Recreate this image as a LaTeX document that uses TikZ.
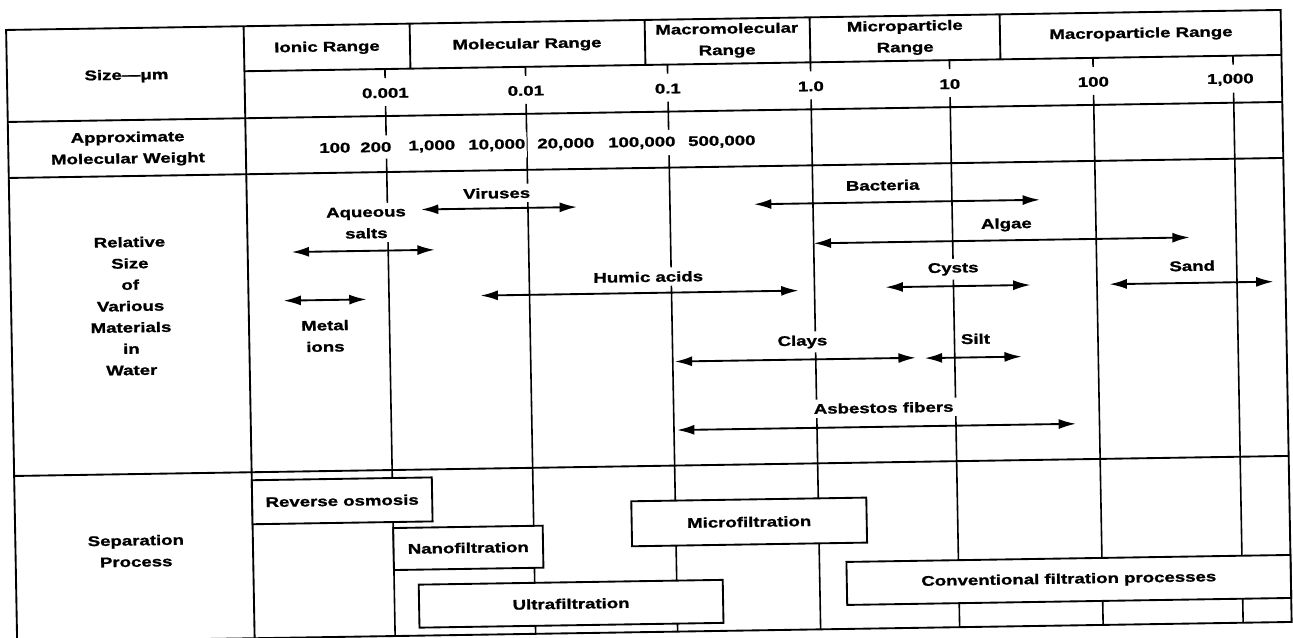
\documentclass[tikz,border=0pt]{standalone}
\usepackage{fontspec}
\setmainfont{Liberation Sans}[FakeStretch=1.33, BoldFeatures={FakeBold=1.2}]
\usetikzlibrary{arrows.meta}
\begin{document}
\begin{tikzpicture}[x=0.75pt,y=-0.75pt,
  grid/.style={line width=1.4pt},
  tickline/.style={line width=1.2pt},
  txt/.style={font=\bfseries\fontsize{10.5}{16}\selectfont, align=center, inner sep=1pt},
  lbl/.style={txt, fill=white, inner sep=3pt},
  mwlbl/.style={txt, fill=white, inner xsep=1pt, inner ysep=5pt},
  szlbl/.style={txt, fill=white, inner xsep=1pt, inner ysep=1pt},
  rng/.style={line width=1.4pt, {Latex[length=13pt,width=7.5pt]}-{Latex[length=13pt,width=7.5pt]}},
  sbox/.style={txt, draw, fill=white, line width=1.4pt, inner sep=0pt, outer sep=0pt},
]
\useasboundingbox (0,0) rectangle (1293,638);
\fill[white] (0,0) rectangle (1293,638);
\begin{scope}[cm={1,0.0157,-0.018,1,(-4.31pt,-7.61pt)}, transform shape]
% grid
\draw[grid] (11.5,20) rectangle (1286,632);
\draw[grid] (249,20) -- (249,632);
\draw[grid] (249,65) -- (1286,65);
\draw[grid] (11.5,112) -- (1286,112);
\draw[grid] (11.5,168) -- (1286,168);
\draw[grid] (11.5,466) -- (1286,466);
\foreach \x in {415,650,815,1005} \draw[grid] (\x,20) -- (\x,65);
\foreach \x in {389.5,530,672,815,954,1097.5,1237.5} {
  \draw[tickline] (\x,65) -- (\x,74);
  \draw[tickline] (\x,102) -- (\x,632);
}
% header texts
\node[txt] (ionic) at (332,43) {Ionic Range};
\node[txt] (molec) at (532,43) {Molecular Range};
\node[txt] (macromol) at (732,42) {Macromolecular\\Range};
\node[txt] (micro) at (910,42) {Microparticle\\Range};
\node[txt] (macro) at (1146,42) {Macroparticle Range};
\node[txt] (size) at (131,68) {Size—μm};
\node[txt] (amw) at (131,141) {Approximate\\Molecular Weight};
\node[txt] (rel) at (131,298) {Relative\\Size\\of\\Various\\Materials\\in\\Water};
\node[txt] (sep) at (132,543) {Separation\\Process};
% size labels
\node[szlbl] (s1) at (389.5,89) {0.001};
\node[szlbl] (s2) at (530,89) {0.01};
\node[szlbl] (s3) at (672,89) {0.1};
\node[szlbl] (s4) at (815,89) {1.0};
\node[szlbl] (s5) at (954,89) {10};
\node[szlbl] (s6) at (1097.5,89) {100};
\node[szlbl] (s7) at (1234.5,89) {1,000};
% molecular weight labels
\node[mwlbl] (m1) at (338,143) {100};
\node[mwlbl] (m2) at (379,143) {200};
\node[mwlbl] (m3) at (435,143) {1,000};
\node[mwlbl] (m4) at (500,143) {10,000};
\node[mwlbl] (m5) at (569,143) {20,000};
\node[mwlbl] (m6) at (645,143) {100,000};
\node[mwlbl] (m7) at (725,143) {500,000};
% ranges
\draw[rng] (423,206) -- (579,206);
\draw[rng] (293,246.5) -- (436,246.5);
\draw[rng] (284,295) -- (367,295);
\draw[rng] (481,293) -- (799,293);
\draw[rng] (756,206) -- (1042,206);
\draw[rng] (815,246) -- (1191,246);
\draw[rng] (886,291) -- (1031,291);
\draw[rng] (1110,291.5) -- (1274,291.5);
\draw[rng] (674,362) -- (915,362);
\draw[rng] (924,362.5) -- (1021,362.5);
\draw[rng] (675,430.5) -- (1074,430.5);
\node[lbl] (viruses) at (499,191) {Viruses};
\node[lbl] (aqueous) at (368,218.5) {Aqueous\\salts};
\node[lbl] (metal) at (325,331) {Metal\\ions};
\node[lbl] (humic) at (649,277) {Humic acids};
\node[lbl] (bacteria) at (885,189) {Bacteria};
\node[lbl] (algae) at (1008,230.5) {Algae};
\node[lbl] (cysts) at (954,274) {Cysts};
\node[lbl] (sand) at (1193,274.5) {Sand};
\node[lbl] (clays) at (802,344.5) {Clays};
\node[lbl] (silt) at (975,344) {Silt};
\node[lbl] (asbestos) at (882,411.5) {Asbestos fibers};
% separation processes
\node[sbox, minimum width=135pt, minimum height=33pt] (ro) at (339,496) {Reverse osmosis};
\node[sbox, minimum width=112.1pt, minimum height=31.5pt] (nf) at (464.25,545) {Nanofiltration};
\node[sbox, minimum width=228pt, minimum height=32.25pt] (uf) at (566,602.5) {Ultrafiltration};
\node[sbox, minimum width=176.25pt, minimum height=33.75pt] (mf) at (745.5,523.5) {Microfiltration};
\node[sbox, minimum width=333pt, minimum height=32.25pt] (cf) at (1064,586.5) {Conventional filtration processes};
\end{scope}
\end{tikzpicture}
\end{document}
